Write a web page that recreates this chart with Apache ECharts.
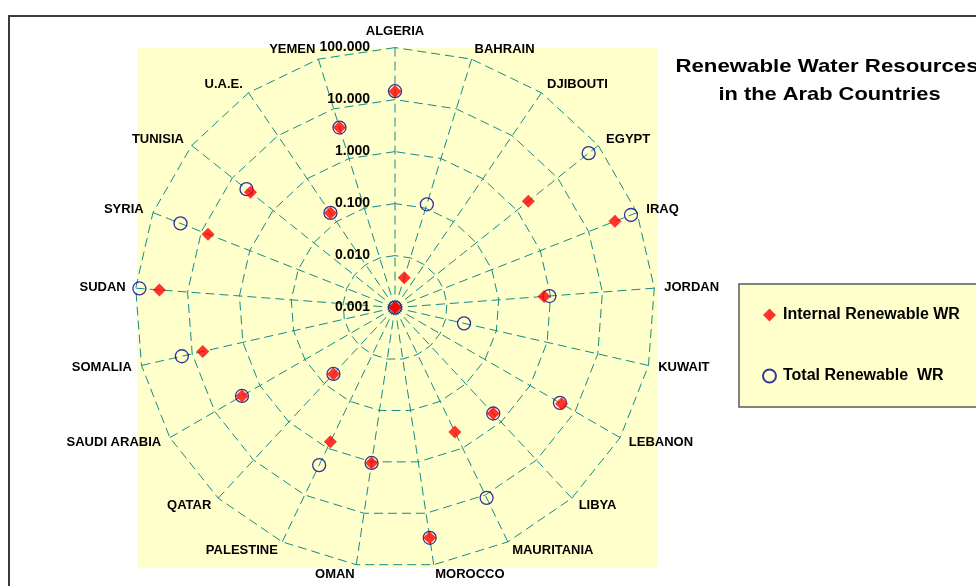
<!DOCTYPE html>
<html>
<head>
<meta charset="utf-8">
<script src="https://cdn.jsdelivr.net/npm/echarts@6/dist/echarts.min.js"></script>
<style>
html,body{margin:0;padding:0;background:#fff;}
#chart{width:976px;height:586px;}
</style>
</head>
<body>
<div id="chart"></div>
<script>
const countries = ['ALGERIA','BAHRAIN','DJIBOUTI','EGYPT','IRAQ','JORDAN','KUWAIT','LEBANON','LIBYA','MAURITANIA','MOROCCO','OMAN','PALESTINE','QATAR','SAUDI ARABIA','SOMALIA','SUDAN','SYRIA','TUNISIA','U.A.E.','YEMEN'];
const internalWR = [14.3, 0.004, 0.001, 1.9, 35, 0.75, 0.001, 5.0, 0.6, 0.45, 30, 1.05, 0.73, 0.055, 2.5, 6.2, 35, 7.3, 3.6, 0.16, 4.2];
const totalWR = [14.5, 0.12, 0.001, 58, 75, 0.95, 0.023, 4.6, 0.6, 11.5, 30, 1.05, 2.3, 0.055, 2.5, 16, 85, 27, 4.5, 0.16, 4.2];
const radiusTicks = [0.001, 0.01, 0.1, 1, 10, 100];
const radiusTickLabels = ['0.001', '0.010', '0.100', '1.000', '10.000', '100.000'];
const decades = 5;
const titleLines = ['Renewable Water Resources', 'in the Arab Countries'];
const seriesNames = ['Internal Renewable WR', 'Total Renewable  WR'];

const FONT = 'Liberation Sans, Arial, Helvetica, sans-serif';
const GRID = '#138a8a';
const CX = 395, CY = 307.6, R = 260;

// radar is used only for the polygon web and names (indicators listed counter-clockwise)
const radarIndicators = [countries[0]].concat(countries.slice(1).reverse()).map(n => ({ name: n, min: 0, max: decades }));

const baseGraphic = [
  { id: 'frame', type: 'rect', z: -100, shape: { x: 9, y: 16, width: 1200, height: 1000 }, style: { fill: '#ffffff', stroke: '#3a3a3a', lineWidth: 2 } },
  { id: 'plotbg', type: 'rect', z: -90, shape: { x: 137, y: 48, width: 520, height: 520 }, style: { fill: '#FFFFCC', stroke: null } },
  { id: 'legbox', type: 'rect', z: -90, shape: { x: 739, y: 284, width: 300, height: 123 }, style: { fill: '#FFFFCC', stroke: '#5a5a5a', lineWidth: 1.5 } },
  { id: 't1', type: 'text', z: 10, x: 827, y: 67, scaleX: 1.17, style: { text: titleLines[0], font: 'bold 19px ' + FONT, fill: '#000', align: 'center', verticalAlign: 'middle' } },
  { id: 't2', type: 'text', z: 10, x: 829.5, y: 95, scaleX: 1.15, style: { text: titleLines[1], font: 'bold 19px ' + FONT, fill: '#000', align: 'center', verticalAlign: 'middle' } }
];

const chart = echarts.init(document.getElementById('chart'), null, { renderer: 'canvas' });
chart.setOption({
  backgroundColor: '#ffffff',
  animation: false,
  graphic: baseGraphic,
  legend: {
    orient: 'vertical',
    left: 762,
    top: 307,
    padding: 0,
    itemGap: 45,
    itemWidth: 13,
    itemHeight: 13,
    data: seriesNames,
    textStyle: { fontFamily: FONT, fontSize: 16, fontWeight: 'bold', color: '#000', padding: [0, 0, 0, 2] }
  },
  radar: {
    center: [CX, CY],
    radius: R,
    startAngle: 90,
    shape: 'polygon',
    splitNumber: decades,
    indicator: radarIndicators,
    axisName: { color: '#000', fontFamily: FONT, fontSize: 13, fontWeight: 'bold' },
    nameGap: 10,
    axisLine: { show: false },
    splitLine: { lineStyle: { color: GRID, width: 1, type: [9, 5] } },
    splitArea: { show: false },
    axisTick: { show: false },
    axisLabel: { show: false }
  },
  polar: { center: [CX, CY], radius: R },
  angleAxis: {
    type: 'category',
    data: countries,
    startAngle: 90,
    clockwise: true,
    boundaryGap: false,
    axisLine: { show: false },
    axisTick: { show: false },
    axisLabel: { show: false },
    splitLine: { show: true, lineStyle: { color: GRID, width: 1, type: [9, 5] } }
  },
  radiusAxis: {
    type: 'log',
    logBase: 10,
    min: radiusTicks[0],
    max: radiusTicks[radiusTicks.length - 1],
    show: false
  },
  series: [
    {
      name: seriesNames[1],
      type: 'scatter',
      coordinateSystem: 'polar',
      symbol: 'circle',
      symbolSize: 13,
      z: 3,
      itemStyle: { color: 'rgba(0,0,0,0)', borderColor: '#00008B', borderWidth: 1.3 },
      data: totalWR.map((v, i) => [v, countries[i]])
    },
    {
      name: seriesNames[0],
      type: 'scatter',
      coordinateSystem: 'polar',
      symbol: 'diamond',
      symbolSize: 13,
      z: 4,
      itemStyle: { color: '#FF0000' },
      data: internalWR.map((v, i) => [v, countries[i]])
    }
  ]
});

// radius tick labels, positioned through the polar log scale
const tickGraphic = radiusTicks.map((v, i) => {
  const p = chart.convertToPixel({ seriesIndex: 0 }, [v, countries[0]]);
  return {
    id: 'rt' + i, type: 'text', z: 20, x: p[0] - 25, y: p[1],
    style: { text: radiusTickLabels[i], font: 'bold 14px ' + FONT, fill: '#000', align: 'right', verticalAlign: 'middle' }
  };
});
chart.setOption({ graphic: baseGraphic.concat(tickGraphic) });
</script>
</body>
</html>
